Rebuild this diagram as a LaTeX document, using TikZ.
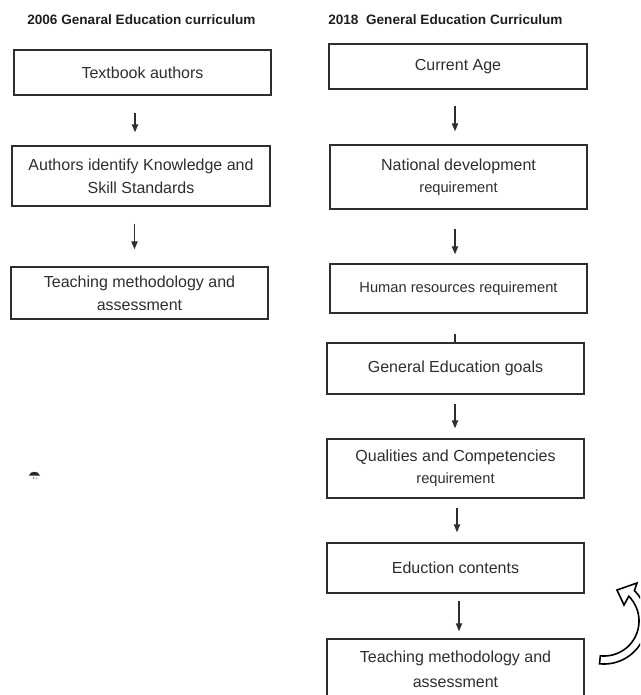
\documentclass[tikz,border=0pt]{standalone}
\usepackage{fontspec}
\setmainfont{Liberation Sans}
\usetikzlibrary{arrows.meta,calc}
\definecolor{ink}{HTML}{2E2E2E}
\begin{document}
\begin{tikzpicture}[x=0.75pt,y=-0.75pt,
  box/.style={draw=ink, line width=1.1pt, inner sep=0pt, align=center, text=ink,
    font=\fontsize{12}{17.25}\selectfont},
  heading/.style={anchor=base west, inner sep=0pt, text=black!88,
    font=\fontsize{10.2}{12}\selectfont\bfseries},
  arr/.style={draw=ink, line width=0.8pt, -{Triangle[length=6pt,width=4.8pt]}},
  tick/.style={draw=ink, line width=0.8pt},
  small/.style={font=\fontsize{11}{13}\selectfont}]
\useasboundingbox (0,0) rectangle (640,695);
\clip (0,0) rectangle (640,695);

% column headings
\node[heading] (t06) at (27,25) {2006 Genaral Education curriculum};
\node[heading] (t18) at (328,25) {2018\ \ General Education Curriculum};

% 2006 flow
\node[box, minimum width=192.75pt, minimum height=33.75pt] (L1) at (142.5,72.5) {Textbook authors};
\node[box, minimum width=193.5pt, minimum height=45pt] (L2) at (141,176)
  {Authors identify Knowledge and\\Skill Standards};
\node[box, minimum width=192.75pt, minimum height=39pt] (L3) at (139.5,293)
  {Teaching methodology and\\assessment};

\draw[arr] ($(L1.south)+(-7.5,17)$) -- ($(L1.south |- L2.north)+(-7.5,-13)$);
\draw[arr] ($(L2.south)+(-6.5,17)$) -- ($(L2.south |- L3.north)+(-6.5,-17)$);

% 2018 flow
\node[box, minimum width=193.5pt, minimum height=33.75pt] (R1) at (458,66.5) {Current Age};
\node[box, minimum width=192.75pt, minimum height=48pt, font=\fontsize{12}{16.3}\selectfont] (R2) at (458.5,177)
  {National development\\{\fontsize{11}{13}\selectfont requirement}};
\node[box, small, minimum width=192.75pt, minimum height=36.75pt] (R3) at (458.5,288.5)
  {Human resources requirement};
\node[box, minimum width=192.75pt, minimum height=38.25pt] (R4) at (455.5,368.5)
  {General Education goals};
\node[box, minimum width=192.75pt, minimum height=44.25pt, font=\fontsize{12}{16.5}\selectfont] (R5) at (455.5,468.5)
  {Qualities and Competencies\\{\fontsize{11}{13}\selectfont requirement}};
\node[box, minimum width=192.75pt, minimum height=37.5pt] (R6) at (455.5,568)
  {Eduction contents};
\node[box, minimum width=192.75pt, minimum height=45.75pt, font=\fontsize{12}{18.75}\selectfont] (R7) at (455.5,669.5)
  {Teaching methodology and\\assessment};

\draw[arr] ($(R1.south)+(-3,16)$) -- ($(R1.south |- R2.north)+(-3,-13)$);
\draw[arr] ($(R2.south)+(-3.5,19)$) -- ($(R2.south |- R3.north)+(-3.5,-9)$);
\draw[tick] ($(R3.south)+(-3.5,20)$) -- ($(R3.south |- R4.north)+(-3.5,0)$);
\draw[arr] ($(R4.south)+(-0.5,9)$) -- ($(R4.south |- R5.north)+(-0.5,-10)$);
\draw[arr] ($(R5.south)+(1.5,9)$) -- ($(R5.south |- R6.north)+(1.5,-10)$);
\draw[arr] ($(R6.south)+(3.5,7)$) -- ($(R6.south |- R7.north)+(3.5,-7)$);

% hollow curved feedback arrow
\filldraw[fill=white, draw=black, line width=1.2pt, line join=miter]
  plot[domain=-96:45, samples=40] ({604+43*cos(\x)},{621-43*sin(\x)})
  -- (637,583) -- (617,590) -- (624,605)
  -- plot[domain=45:-96, samples=40] ({604+35*cos(\x)},{621-35*sin(\x)})
  -- cycle;

% small ink mark
\fill[black!85] (29,475.5) .. controls (30,470.5) and (38.5,470.5) .. (40,475.5) -- cycle;
\fill[black!45] (33.5,477.8) circle (1);
\fill[black!35] (36.5,478.2) circle (0.8);
\end{tikzpicture}
\end{document}
